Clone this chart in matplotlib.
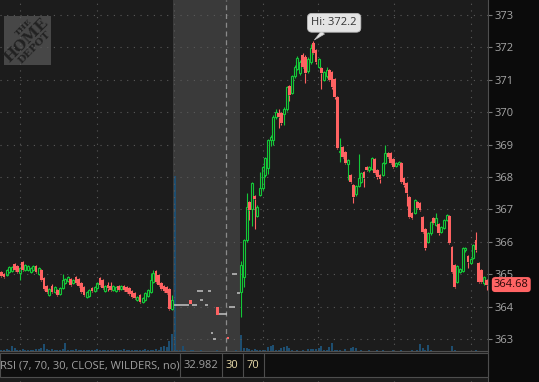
import matplotlib
matplotlib.use('Agg')
import matplotlib.pyplot as plt
import matplotlib.transforms as mtransforms
from matplotlib.patches import Rectangle
from matplotlib.lines import Line2D
import numpy as np

plt.rcParams['font.family'] = ['Open Sans', 'DejaVu Sans']

# --- regular session, day 1 (last 65 bars) ---
open1 = [365.07, 365.01, 364.98, 365.07, 365.10, 365.32, 365.25, 365.04, 365.38, 365.13,
         365.13, 365.07, 365.13, 365.25, 365.01, 365.13, 364.88, 364.64, 364.36, 364.64,
         364.45, 364.51, 364.39, 364.57, 364.73, 364.79, 364.85, 364.73, 364.91, 364.85,
         364.73, 364.61, 364.30, 364.33, 364.57, 364.48, 364.57, 364.88, 364.82, 364.48,
         364.67, 364.64, 364.51, 364.48, 364.64, 364.54, 364.64, 364.61, 364.57, 364.48,
         364.42, 364.20, 364.36, 364.14, 364.20, 364.33, 364.45, 364.76, 365.10, 364.98,
         364.73, 364.64, 364.61, 364.54, 363.93]
high1 = [365.09, 365.03, 365.15, 365.24, 365.26, 365.33, 365.28, 365.22, 365.40, 365.30,
         365.27, 365.21, 365.28, 365.27, 365.21, 365.15, 364.90, 364.66, 364.57, 364.70,
         364.64, 364.54, 364.60, 365.01, 364.88, 364.94, 364.88, 364.85, 364.94, 364.88,
         364.76, 364.64, 364.48, 364.54, 364.60, 364.64, 364.76, 364.91, 364.85, 364.67,
         364.76, 364.76, 364.67, 364.64, 364.67, 364.67, 364.67, 364.64, 364.60, 364.51,
         364.45, 364.33, 364.39, 364.30, 364.45, 364.54, 365.04, 365.13, 365.13, 365.01,
         364.76, 364.67, 364.64, 364.57, 364.36]
low1 = [364.92, 364.88, 364.95, 365.05, 365.08, 365.10, 365.04, 364.82, 365.10, 365.10,
        365.10, 365.04, 365.10, 365.04, 364.98, 364.80, 364.50, 364.42, 364.33, 364.42,
        364.42, 364.33, 364.36, 364.54, 364.70, 364.76, 364.64, 364.70, 364.70, 364.61,
        364.42, 364.33, 364.27, 364.30, 364.45, 364.45, 364.54, 364.64, 364.54, 364.45,
        364.48, 364.48, 364.48, 364.45, 364.48, 364.51, 364.48, 364.42, 364.36, 364.27,
        364.24, 364.17, 364.11, 364.11, 364.17, 364.30, 364.42, 364.73, 364.73, 364.64,
        364.51, 364.45, 364.39, 363.90, 363.90]
close1 = [364.94, 364.91, 365.13, 365.22, 365.22, 365.13, 365.07, 365.19, 365.13, 365.28,
          365.25, 365.19, 365.25, 365.07, 365.19, 364.82, 364.54, 364.45, 364.54, 364.45,
          364.61, 364.36, 364.57, 364.82, 364.85, 364.91, 364.67, 364.82, 364.73, 364.64,
          364.45, 364.36, 364.45, 364.51, 364.48, 364.61, 364.73, 364.67, 364.57, 364.64,
          364.57, 364.51, 364.64, 364.61, 364.51, 364.64, 364.51, 364.45, 364.39, 364.30,
          364.27, 364.30, 364.14, 364.27, 364.42, 364.51, 364.82, 365.04, 364.76, 364.67,
          364.54, 364.48, 364.42, 363.93, 364.20]
vol1 = [3, 2, 4, 3, 11, 7, 3, 2, 4, 2,
        3, 2, 3, 4, 5, 6, 16, 5, 3, 4,
        2, 3, 2, 4, 18, 3, 2, 3, 4, 2,
        3, 2, 3, 2, 3, 2, 5, 2, 3, 2,
        2, 3, 2, 3, 2, 3, 5, 2, 3, 2,
        3, 2, 3, 2, 4, 2, 3, 3, 5, 3,
        9, 11, 8, 23, 39]

# --- extended hours (25 slots, shaded) ---
ext_trade_slot = [0, 1, 2, 3, 4, 5, 7, 8, 9, 10, 13, 10, 12, 14, 15, 17, 18, 19, 21, 22, 22, 23, 24]
ext_trade_price = [364.05, 364.05, 364.05, 364.05, 364.05, 364.05, 364.05, 364.05,
                   364.48, 364.48, 364.48, 364.20, 364.05, 363.19, 363.00,
                   363.77, 363.77, 363.77, 363.99, 363.99, 365.00, 365.00, 364.42]
ext_bar_slot = [6, 16, 20]
ext_bar_open = [364.20, 363.99, 363.06]
ext_bar_close = [364.08, 363.74, 363.00]
vol_ext = [400, 3, 2, 11, 2, 1, 2, 2, 1, 0,
           2, 0, 1, 0, 1, 0, 2, 0, 0, 1,
           1, 1, 0, 2, 1]

# --- regular session, day 2 (93 bars) ---
open2 = [364.45, 364.91, 366.06, 367.23, 367.00, 367.40, 366.80, 367.45, 367.66, 368.06,
         368.28, 369.14, 369.14, 369.85, 369.97, 369.97, 369.95, 370.10, 370.81, 370.60,
         371.10, 371.33, 371.20, 371.77, 371.70, 371.27, 371.55, 372.14, 371.92, 371.40,
         371.36, 371.00, 371.10, 371.30, 371.24, 371.02, 370.47, 368.76, 368.93, 368.77,
         368.40, 368.06, 367.75, 367.47, 367.72, 367.85, 368.15, 368.30, 368.20, 368.25,
         368.55, 368.20, 368.05, 368.06, 368.43, 368.74, 368.74, 368.55, 368.34, 368.40,
         368.43, 367.97, 367.80, 367.38, 366.89, 366.89, 367.23, 367.20, 366.76, 366.40,
         366.00, 366.27, 366.73, 366.52, 366.55, 366.30, 366.42, 366.67, 366.80, 365.84,
         365.28, 364.76, 365.07, 365.10, 365.75, 365.56, 365.35, 365.50, 366.06, 365.35,
         365.13, 364.72, 364.82]
high2 = [365.40, 366.10, 367.52, 367.26, 367.85, 367.45, 367.12, 368.15, 368.35, 368.62,
         369.18, 369.28, 369.90, 370.10, 370.10, 370.00, 370.15, 370.82, 370.85, 371.15,
         371.45, 371.72, 371.60, 371.82, 371.75, 371.70, 372.10, 372.20, 371.95, 371.68,
         371.40, 371.28, 371.40, 371.33, 371.28, 371.05, 370.50, 369.20, 368.96, 368.80,
         368.56, 368.10, 367.78, 367.75, 368.70, 368.16, 368.18, 368.33, 368.34, 368.62,
         368.58, 368.24, 368.08, 368.46, 369.00, 368.78, 368.78, 368.58, 368.46, 368.50,
         368.46, 368.00, 367.84, 367.42, 366.92, 367.33, 367.26, 367.23, 366.80, 366.44,
         366.30, 366.64, 366.76, 366.90, 366.58, 366.48, 366.70, 366.86, 366.84, 365.88,
         365.32, 365.29, 365.20, 365.84, 365.85, 365.60, 365.50, 365.94, 366.30, 365.38,
         365.16, 364.95, 364.86]
low2 = [363.68, 364.60, 366.00, 366.67, 366.50, 366.40, 366.75, 367.40, 367.60, 368.00,
        368.10, 368.95, 369.00, 369.80, 369.50, 369.60, 369.60, 370.05, 370.34, 370.55,
        371.05, 371.30, 371.15, 371.35, 370.90, 371.22, 371.50, 371.78, 371.50, 371.35,
        370.70, 370.95, 371.05, 370.95, 370.72, 370.42, 368.85, 368.46, 368.58, 368.40,
        367.90, 367.80, 367.20, 367.42, 367.68, 367.80, 367.70, 368.18, 368.16, 368.20,
        368.08, 367.95, 367.80, 368.02, 368.40, 368.58, 368.40, 368.28, 368.30, 368.36,
        367.80, 367.70, 367.10, 366.72, 366.70, 366.85, 367.00, 366.94, 366.26, 365.76,
        365.96, 366.22, 366.54, 366.48, 366.22, 366.26, 366.38, 366.63, 365.92, 365.03,
        364.56, 364.72, 365.03, 365.06, 365.70, 365.20, 365.30, 365.46, 365.70, 364.72,
        364.72, 364.68, 364.50]
close2 = [365.28, 366.06, 367.07, 366.98, 367.80, 367.32, 367.07, 367.66, 368.31, 368.58,
          369.14, 369.23, 369.85, 370.00, 369.85, 369.67, 370.10, 370.78, 370.53, 371.10,
          371.40, 371.67, 371.55, 371.40, 371.20, 371.64, 371.98, 371.83, 371.55, 371.64,
          371.20, 371.24, 371.30, 371.00, 370.78, 370.47, 368.90, 368.80, 368.62, 368.43,
          368.52, 367.85, 367.38, 367.72, 367.97, 368.12, 367.97, 368.22, 368.30, 368.58,
          368.12, 368.00, 367.95, 368.43, 368.74, 368.62, 368.43, 368.31, 368.43, 368.46,
          367.85, 367.75, 367.50, 366.76, 366.73, 367.29, 367.04, 366.98, 366.30, 365.80,
          366.27, 366.60, 366.58, 366.73, 366.27, 366.45, 366.67, 366.82, 365.96, 365.07,
          364.60, 365.25, 365.16, 365.80, 365.81, 365.38, 365.47, 365.90, 365.75, 364.76,
          364.76, 364.91, 364.68]
vol2 = [36, 7, 7, 5, 3, 4, 3, 2, 3, 2,
        9, 11, 14, 2, 3, 7, 9, 11, 7, 2,
        1, 2, 1, 2, 1, 4, 4, 4, 4, 7,
        11, 2, 3, 9, 18, 2, 3, 3, 1, 4,
        1, 7, 9, 7, 1, 2, 1, 1, 2, 1,
        1, 2, 1, 2, 1, 1, 1, 3, 1, 1,
        2, 1, 1, 1, 2, 1, 2, 16, 7, 3,
        14, 2, 1, 1, 1, 1, 1, 1, 1, 11,
        2, 1, 1, 1, 1, 1, 1, 1, 2, 1,
        1, 1, 1]

price_ticks = [363, 364, 365, 366, 367, 368, 369, 370, 371, 372, 373]
time_grid = [7, 36, 64.6, 98, 118.6, 147.4, 176.3]
day_break = 84.1
rsi_label = 'RSI (7, 70, 30, CLOSE, WILDERS, no)'
rsi_value = '32.982'
rsi_levels = ['30', '70']

BG = '#1c1c1c'
GREEN = '#14c838'
RED = '#ff6262'
GRID = '#5a5a5a'

n1, n_ext, n2 = len(open1), len(vol_ext), len(open2)
x1 = np.arange(n1)
x_ext0 = n1
x2 = np.arange(n1 + n_ext, n1 + n_ext + n2)
n_all = n1 + n_ext + n2

W, H = 539, 382
fig = plt.figure(figsize=(W / 100, H / 100), dpi=100, facecolor='#0b0b0b')
rect = [0, 31 / H, 488 / W, 351 / H]

# volume panel behind price panel
axv = fig.add_axes(rect)
axv.set_facecolor(BG)
axv.set_xlim(-0.5, n_all - 0.5)
axv.set_ylim(0, 800)
axv.set_xticks([])
axv.set_yticks([])
for s in axv.spines.values():
    s.set_visible(False)
axv.axvspan(x_ext0 - 0.5, x_ext0 + n_ext - 0.5, color='#3a3a3a', lw=0, zorder=0)
axv.bar(np.arange(n_all), vol1 + vol_ext + vol2, width=0.7, color='#1e4e70', lw=0, zorder=2)

ax = fig.add_axes(rect)
ax.patch.set_alpha(0)
ax.set_zorder(axv.get_zorder() + 1)
ax.set_xlim(-0.5, n_all - 0.5)
ax.set_ylim(362.63, 373.46)
ax.set_yticks(price_ticks)
ax.set_xticks(time_grid)
ax.yaxis.tick_right()
ax.tick_params(axis='y', length=3, width=0.8, color='#777777', labelcolor='#a6a6a6',
               labelsize=8, pad=1.5)
ax.tick_params(axis='x', length=0, labelbottom=False)
ax.grid(True, color=GRID, lw=0.8, linestyle=(0, (1, 5)))
ax.axvline(day_break, color='#8a8a8a', lw=0.9, linestyle=(0, (4, 3)), zorder=1)
for k in ['top', 'left']:
    ax.spines[k].set_visible(False)
ax.spines['right'].set_color('#4f4f4f')
ax.spines['bottom'].set_color('#4f4f4f')


def candles(x, o, h, l, c):
    x = np.asarray(x); o = np.asarray(o); h = np.asarray(h)
    l = np.asarray(l); c = np.asarray(c)
    up = c >= o
    top = np.maximum(o, c)
    bot = np.minimum(o, c)
    body = np.maximum(top - bot, 0.025)
    col = np.where(up, GREEN, RED)
    ax.vlines(x, top, h, colors=col, lw=0.8, zorder=3)
    ax.vlines(x, l, bot, colors=col, lw=0.8, zorder=3)
    ax.bar(x[up], body[up], bottom=bot[up], width=0.72, facecolor='none',
           edgecolor=GREEN, linewidth=0.8, zorder=4)
    ax.bar(x[~up], body[~up], bottom=bot[~up], width=0.9, color=RED, lw=0, zorder=4)


candles(x1, open1, high1, low1, close1)
candles(x2, open2, high2, low2, close2)

# extended hours prints
ex = x_ext0 + np.array(ext_trade_slot)
ax.hlines(ext_trade_price, ex - 0.5, ex + 0.5, colors='#c4c4c4', lw=1.1, zorder=3)
eb = x_ext0 + np.array(ext_bar_slot)
ax.bar(eb, np.array(ext_bar_open) - np.array(ext_bar_close), bottom=ext_bar_close,
       width=0.95, color=RED, lw=0, zorder=4)

# high marker
hi_i = int(np.argmax(high2))
ax.annotate(f'Hi: {high2[hi_i]:.1f}', xy=(x2[hi_i], high2[hi_i]), xytext=(15, 13),
            textcoords='offset points', ha='center', va='center', fontsize=8, color='#333333',
            bbox=dict(boxstyle='round,pad=0.35,rounding_size=0.4', fc='#e4e4e4', ec='#bdbdbd', lw=0.6),
            arrowprops=dict(arrowstyle='wedge,tail_width=0.4,shrink_factor=0.5', fc='#e4e4e4',
                            ec='#bdbdbd', lw=0.5, shrinkA=0, shrinkB=1),
            zorder=10)

# last price bubble
trans = mtransforms.blended_transform_factory(ax.transAxes, ax.transData)
ax.text(1.012, close2[-1], f'{close2[-1]:.2f}', transform=trans, ha='left', va='center',
        fontsize=8, color='#2a0808', clip_on=False, zorder=10,
        bbox=dict(boxstyle='round,pad=0.18,rounding_size=0.3', fc='#ff6464', ec='none'))

# lower (RSI) panel
axr = fig.add_axes([0, 0, 488 / W, 30 / H])
axr.set_facecolor(BG)
axr.set_xlim(-0.5, n_all - 0.5)
axr.set_xticks(time_grid)
axr.set_yticks([])
axr.tick_params(axis='x', length=0, labelbottom=False)
axr.grid(True, axis='x', color=GRID, lw=0.8, linestyle=(0, (1, 5)))
for k in ['top', 'left', 'bottom']:
    axr.spines[k].set_visible(False)
axr.spines['right'].set_color('#4f4f4f')

fig.add_artist(Rectangle((0, 5 / H), 488 / W, 24 / H, transform=fig.transFigure,
                         fc='#0e0e0e', ec='#4d4d4d', lw=0.8, zorder=5))
for px in [180, 222, 243, 264]:
    fig.add_artist(Line2D([px / W, px / W], [5 / H, 29 / H], transform=fig.transFigure,
                          color='#4d4d4d', lw=0.8, zorder=6))
fig.text(0.5 / W, 16 / H, rsi_label, color='#a0a0a0', fontsize=8, va='center', ha='left', zorder=7)
fig.text(184 / W, 16 / H, rsi_value, color='#a0a0a0', fontsize=8, va='center', ha='left', zorder=7)
fig.text(226 / W, 16 / H, rsi_levels[0], color='#eadcaa', fontsize=8, va='center', ha='left', zorder=7)
fig.text(247 / W, 16 / H, rsi_levels[1], color='#eadcaa', fontsize=8, va='center', ha='left', zorder=7)

# logo
axl = fig.add_axes([4 / W, 1 - 65 / H, 47 / W, 49 / H])
axl.set_facecolor('#474747')
axl.set_xticks([])
axl.set_yticks([])
for s in axl.spines.values():
    s.set_visible(False)
axl.text(0.42, 0.76, 'THE', rotation=45, ha='center', va='center', fontsize=6,
         fontweight='bold', color='#222222', family='DejaVu Serif')
axl.text(0.47, 0.51, 'HOME', rotation=45, ha='center', va='center', fontsize=11,
         fontweight='bold', color='#222222', family='DejaVu Serif')
axl.text(0.65, 0.35, 'DEPOT', rotation=45, ha='center', va='center', fontsize=7.5,
         fontweight='bold', color='#222222', family='DejaVu Serif')

fig.savefig('out.png', dpi=100, facecolor=fig.get_facecolor())
